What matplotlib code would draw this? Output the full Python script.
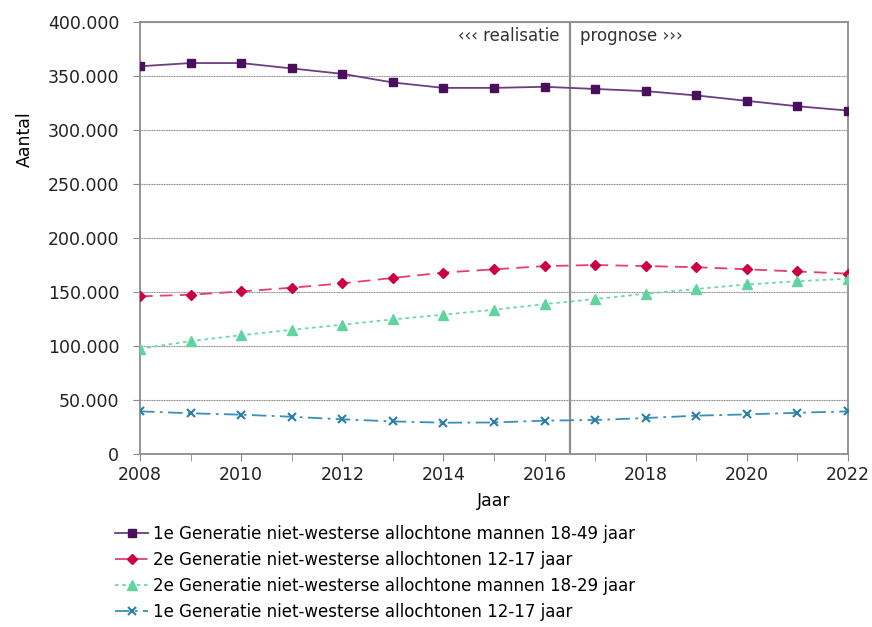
import numpy as np
import matplotlib.pyplot as plt
from matplotlib.ticker import FuncFormatter, MultipleLocator

# Data
jaren = list(range(2008, 2023))
eerste_gen_mannen_18_49 = [359000, 362000, 362000, 357000, 352000, 344000, 339000, 339000,
                           340000, 338000, 336000, 332000, 327000, 322000, 318000]
tweede_gen_12_17 = [146000, 147500, 150500, 154000, 158000, 163000, 168000, 171000,
                    174000, 175000, 174000, 173000, 171000, 169000, 167000]
tweede_gen_mannen_18_29 = [97500, 104500, 110000, 115000, 119700, 124700, 129000, 133600,
                           138800, 143500, 148400, 152800, 157000, 160000, 162300]
eerste_gen_12_17 = [39500, 37700, 36400, 34500, 32100, 30200, 29000, 29200,
                    30900, 31500, 33300, 35500, 36700, 38200, 39500]
namen = ["1e Generatie niet-westerse allochtone mannen 18-49 jaar",
         "2e Generatie niet-westerse allochtonen 12-17 jaar",
         "2e Generatie niet-westerse allochtone mannen 18-29 jaar",
         "1e Generatie niet-westerse allochtonen 12-17 jaar"]
grens_jaar = 2016.5

plt.rcParams['font.family'] = ['DejaVu Sans']

fig = plt.figure(figsize=(8.72, 6.27), dpi=100)
ax = fig.add_axes([0.1606, 0.2759, 0.8119, 0.689])

ax.plot(jaren, eerste_gen_mannen_18_49, color='#6e3d80', linewidth=1.3, linestyle='-',
        marker='s', markersize=6, markerfacecolor='#4a0f5c', markeredgecolor='#4a0f5c',
        label=namen[0], zorder=4)
ax.plot(jaren, tweede_gen_12_17, color='#e0406a', linewidth=1.3, linestyle=(0, (7, 4)),
        marker='D', markersize=5, markerfacecolor='#cc0040', markeredgecolor='#cc0040',
        label=namen[1], zorder=4)
ax.plot(jaren, tweede_gen_mannen_18_29, color='#6fd8a8', linewidth=1.3, linestyle=(0, (2, 2)),
        marker='^', markersize=6.5, markerfacecolor='#5fd3a0', markeredgecolor='#5fd3a0',
        label=namen[2], zorder=4)
ax.plot(jaren, eerste_gen_12_17, color='#3a8fb7', linewidth=1.3, linestyle=(0, (8, 3, 1.5, 3)),
        marker='x', markersize=6, markeredgewidth=1.5, markeredgecolor='#2a7fa8',
        label=namen[3], zorder=4)

ax.axvline(grens_jaar, color='#8c8c8c', linewidth=1.6, zorder=3)
ax.text(grens_jaar - 0.2, 387000, "‹‹‹ realisatie", ha='right', va='center', fontsize=12, color='#333333')
ax.text(grens_jaar + 0.2, 387000, "prognose ›››", ha='left', va='center', fontsize=12, color='#333333')

ax.set_xlim(2008, 2022)
ax.set_ylim(0, 400000)
ax.xaxis.set_major_locator(MultipleLocator(2))
ax.xaxis.set_minor_locator(MultipleLocator(1))
ax.yaxis.set_major_locator(MultipleLocator(50000))
ax.yaxis.set_major_formatter(FuncFormatter(lambda v, p: f"{int(v):,}".replace(",", ".")))

ax.grid(True, axis='y', color='#8a8a8a', linewidth=0.8, linestyle=(0, (1, 0.5)))
for s in ax.spines.values():
    s.set_color('#8c8c8c')
    s.set_linewidth(1.3)
ax.tick_params(axis='both', which='both', direction='out', color='#8c8c8c', labelsize=12.5,
               labelcolor='#222222', length=5)
ax.tick_params(axis='y', pad=10)
ax.tick_params(axis='x', which='minor', length=5)

ax.set_xlabel("Jaar", fontsize=12.5, labelpad=6)
ax.set_ylabel("Aantal", fontsize=12.5)
ax.yaxis.set_label_coords(-0.15, 0.73)

ax.legend(loc='upper left', bbox_to_anchor=(-0.045, -0.148), frameon=False, fontsize=12,
          handlelength=2.0, handletextpad=0.3, labelspacing=0.48, borderaxespad=0)

fig.savefig("out.png", dpi=100)
